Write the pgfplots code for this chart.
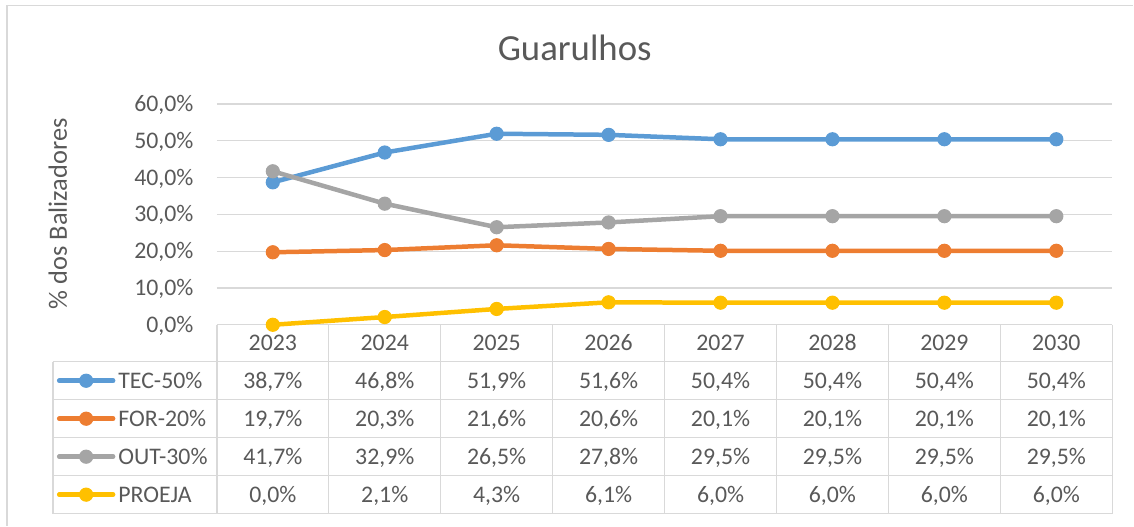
\documentclass[border=0pt]{standalone}
\usepackage{pgfplots}
\pgfplotsset{compat=1.18}
\usepackage{pgfplotstable}
\usepackage{fontspec}
\setmainfont{Carlito}
\pgfkeys{/pgf/number format/assume math mode=true}
\definecolor{tgray}{HTML}{595959}
\definecolor{lgray}{HTML}{D9D9D9}
\definecolor{cTEC}{HTML}{5B9BD5}
\definecolor{cFOR}{HTML}{ED7D31}
\definecolor{cOUT}{HTML}{A5A5A5}
\definecolor{cPRO}{HTML}{FFC000}
\newcommand\tfont{\fontsize{11.9}{14}\selectfont}

\pgfplotstableread{
x year tec for out proeja
0 2023 38.7 19.7 41.7 0.0
1 2024 46.8 20.3 32.9 2.1
2 2025 51.9 21.6 26.5 4.3
3 2026 51.6 20.6 27.8 6.1
4 2027 50.4 20.1 29.5 6.0
5 2028 50.4 20.1 29.5 6.0
6 2029 50.4 20.1 29.5 6.0
7 2030 50.4 20.1 29.5 6.0
}\data

\pgfplotsset{
  ser/.style={#1, line width=2.25pt, mark=*, mark size=3.3pt,
    mark options={solid, fill=#1, draw=#1, line width=0.5pt}},
  tabrow/.style={draw=none, mark=none, forget plot, point meta=explicit,
    nodes near coords={\pgfmathprintnumber[fixed,fixed zerofill,precision=1,use comma,assume math mode=true]{\pgfplotspointmeta}\%},
    nodes near coords align=center,
    every node near coord/.append style={anchor=center, inner sep=0pt, text height=7.5pt, text depth=0pt, font=\tfont, text=tgray}},
}

\begin{document}
\begin{tikzpicture}
\begin{axis}[
  scale only axis, width=448pt, height=110.5pt,
  xmin=-0.5, xmax=7.5, ymin=0, ymax=60,
  clip=false,
  axis line style={draw=none},
  major tick length=0pt,
  /pgf/number format/assume math mode=true,
  xtick={0,1,2,3,4,5,6,7},
  xticklabels from table={\data}{year},
  xticklabel style={anchor=base, inner sep=0pt, yshift=-13pt, font=\tfont, text=tgray},
  ytick={0,10,20,30,40,50,60},
  yticklabel={\pgfmathprintnumber[fixed,fixed zerofill,precision=1,use comma,assume math mode=true]{\tick}\%},
  yticklabel style={anchor=east, inner sep=0pt, xshift=-11.5pt, text height=7.5pt, text depth=0pt, font=\tfont, text=tgray},
  ymajorgrids, grid style={lgray, line width=0.65pt},
  legend cell align=left,
  legend style={draw=none, fill=none, inner sep=0pt, outer sep=0pt,
    at={(-0.1786,-0.16742)}, anchor=north west, row sep=0pt, column sep=1.5pt,
    font=\tfont, text=tgray,
    nodes={inner sep=0pt, minimum height=19pt, text height=7.5pt, text depth=0pt}},
  legend image code/.code={\draw[mark repeat=2, mark phase=2, line cap=round, #1] plot coordinates {(0pt,0pt) (13.5pt,0pt) (27pt,0pt)};},
]
% table grid
\pgfplotsinvokeforeach{-0.5,0.5,1.5,2.5,3.5,4.5,5.5,6.5,7.5}{
  \draw[lgray, line width=0.65pt] (axis cs:#1,0) -- (axis cs:#1,-51.32);
}
\pgfplotsinvokeforeach{-10.05,-20.36,-30.68,-41.0,-51.32}{
  \draw[lgray, line width=0.65pt] (axis cs:-1.9643,#1) -- (axis cs:7.5,#1);
}
\draw[lgray, line width=0.65pt] (axis cs:-1.9643,-10.05) -- (axis cs:-1.9643,-51.32);

\addplot[ser=cTEC] table[x=x, y=tec]{\data};
\addlegendentry{TEC-50\%}
\addplot[ser=cFOR] table[x=x, y=for]{\data};
\addlegendentry{FOR-20\%}
\addplot[ser=cOUT] table[x=x, y=out]{\data};
\addlegendentry{OUT-30\%}
\addplot[ser=cPRO] table[x=x, y=proeja]{\data};
\addlegendentry{PROEJA}

\addplot[tabrow] table[x=x, y expr=-15.20, meta=tec]{\data};
\addplot[tabrow] table[x=x, y expr=-25.52, meta=for]{\data};
\addplot[tabrow] table[x=x, y expr=-35.84, meta=out]{\data};
\addplot[tabrow] table[x=x, y expr=-46.16, meta=proeja]{\data};

\node[anchor=base, font=\fontsize{18.4}{22}\selectfont, text=tgray] at (rel axis cs:0.3996,1.1946) {Guarulhos};
\node[rotate=90, anchor=center, inner sep=0pt, font=\fontsize{13.2}{16}\selectfont, text=tgray] at (rel axis cs:-0.1775,0.5023) {\% dos Balizadores};

\draw[lgray, line width=0.75pt] (rel axis cs:-0.23438,-0.90950) -- (rel axis cs:-0.23438,1.44570) -- (rel axis cs:1.02344,1.44570);
\path (rel axis cs:-0.24219,1.47059) rectangle (rel axis cs:1.02344,-0.90950);
\end{axis}
\end{tikzpicture}
\end{document}
